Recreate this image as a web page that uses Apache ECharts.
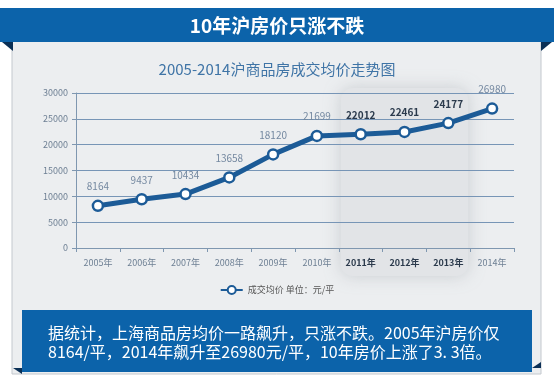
<!DOCTYPE html>
<html><head><meta charset="utf-8">
<script src="https://cdn.jsdelivr.net/npm/echarts@6/dist/echarts.min.js"></script>
<style>html,body{margin:0;padding:0;background:#fff}#c{width:554px;height:387px}</style>
</head><body><div id="c"></div>
<script>
const categories = ['2005年','2006年','2007年','2008年','2009年','2010年','2011年','2012年','2013年','2014年'];
const prices = [8164, 9437, 10434, 13658, 18120, 21699, 22012, 22461, 24177, 26980];
const highlighted = ['2011年','2012年','2013年'];
const boldLabels = ['2011年','2012年','2013年'];
const yTicks = [0, 5000, 10000, 15000, 20000, 25000, 30000];

const FONT = '"Noto Sans CJK SC", "Noto Sans", sans-serif';
const chart = echarts.init(document.getElementById('c'), null, {renderer: 'canvas'});

const seriesData = prices.map((v, i) => {
  const bold = boldLabels.includes(categories[i]);
  return {value: v, label: bold ? {color: '#2b3a4c', fontWeight: 'bold'} : {}};
});

const option = {
  animation: false,
  backgroundColor: '#ffffff',
  textStyle: {fontFamily: FONT},
  title: {
    text: '2005-2014沪商品房成交均价走势图',
    left: 'center', top: 57,
    textStyle: {fontFamily: FONT, fontSize: 15, fontWeight: 'normal', color: '#3f74a6'}
  },
  legend: {
    data: ['成交均价 单位：元/平'],
    top: 280, left: 'center',
    itemWidth: 22, itemHeight: 10, itemGap: 4,
    textStyle: {fontFamily: FONT, fontSize: 9, color: '#555'}
  },
  grid: {left: 76, right: 40, top: 93, bottom: 139, containLabel: false},
  xAxis: {
    type: 'category', data: categories, boundaryGap: true,
    axisLine: {lineStyle: {color: '#7f97b0', width: 1}},
    axisTick: {show: true, length: 4, lineStyle: {color: '#7f97b0'}},
    axisLabel: {
      interval: 0,
      fontFamily: FONT, fontSize: 9, color: '#6d7f93', margin: 10,
      formatter: v => boldLabels.includes(v) ? '{b|' + v + '}' : v,
      rich: {b: {fontFamily: FONT, fontSize: 9, fontWeight: 'bold', color: '#2b3a4c'}}
    }
  },
  yAxis: {
    type: 'value', min: yTicks[0], max: yTicks[yTicks.length - 1], interval: yTicks[1] - yTicks[0],
    axisLine: {show: true, lineStyle: {color: '#7f97b0'}},
    axisTick: {show: true, length: 4, lineStyle: {color: '#7f97b0'}},
    axisLabel: {fontFamily: FONT, fontSize: 9, color: '#6d7f93', margin: 8, formatter: v => String(v)},
    splitLine: {lineStyle: {color: '#7795b6', width: 1.2}}
  },
  series: [{
    name: '成交均价 单位：元/平',
    type: 'line',
    data: seriesData,
    z: 5,
    symbol: 'circle', symbolSize: 10,
    lineStyle: {color: '#1c5b97', width: 5},
    itemStyle: {color: '#ffffff', borderColor: '#1c5b97', borderWidth: 2.5},
    label: {show: true, position: 'top', distance: 8, fontFamily: FONT, fontSize: 10, color: '#7488a0'},
    emphasis: {disabled: true}
  }],
  graphic: []
};
chart.setOption(option);

// decorative frame + highlight band located through the axis scale
const x0 = chart.convertToPixel({xAxisIndex: 0}, highlighted[0]);
const x1 = chart.convertToPixel({xAxisIndex: 0}, highlighted[highlighted.length - 1]);
const band = (x1 - x0) / (highlighted.length - 1);
const bandLeft = x0 - band / 2 + 2, bandRight = x1 + band / 2 - 2;

chart.setOption({
  graphic: [
    {type: 'rect', z: -10, silent: true, shape: {x: 12, y: 40, width: 529, height: 334}, style: {fill: '#eceef0', stroke: '#c3c8ce', lineWidth: 1}},
    {type: 'rect', z: -9, silent: true, shape: {x: bandLeft, y: 88, width: bandRight - bandLeft, height: 188, r: 12},
      style: {fill: '#e2e4e7', shadowBlur: 16, shadowColor: 'rgba(170,175,182,0.5)'}},
    {type: 'rect', z: 20, silent: true, shape: {x: 0, y: 8, width: 554, height: 34}, style: {fill: '#0c63aa'}},
    {type: 'polygon', z: 19, silent: true, shape: {points: [[2, 42], [13, 42], [13, 51]]}, style: {fill: '#0a2f55'}},
    {type: 'polygon', z: 19, silent: true, shape: {points: [[541, 42], [552, 42], [541, 51]]}, style: {fill: '#0a2f55'}},
    {type: 'text', z: 21, silent: true, x: 277, y: 26,
      style: {text: '10年沪房价只涨不跌', fill: '#ffffff', font: 'bold 19px ' + FONT, align: 'center', verticalAlign: 'middle'}},
    {type: 'polygon', z: 19, silent: true, shape: {points: [[13, 368], [22, 368], [22, 374]]}, style: {fill: '#0a2f55'}},
    {type: 'polygon', z: 19, silent: true, shape: {points: [[532, 368], [541, 362], [541, 368]]}, style: {fill: '#0a2f55'}},
    {type: 'rect', z: 20, silent: true, shape: {x: 22, y: 310, width: 510, height: 62}, style: {fill: '#0c63aa'}},
    {type: 'text', z: 21, silent: true, x: 48, y: 333,
      style: {text: '据统计，上海商品房均价一路飙升，只涨不跌。2005年沪房价仅', fill: '#ffffff', font: '16px ' + FONT, align: 'left', verticalAlign: 'middle'}},
    {type: 'text', z: 21, silent: true, x: 48, y: 352,
      style: {text: '8164/平，2014年飙升至26980元/平，10年房价上涨了3. 3倍。', fill: '#ffffff', font: '16px ' + FONT, align: 'left', verticalAlign: 'middle'}}
  ]
});
</script></body></html>
